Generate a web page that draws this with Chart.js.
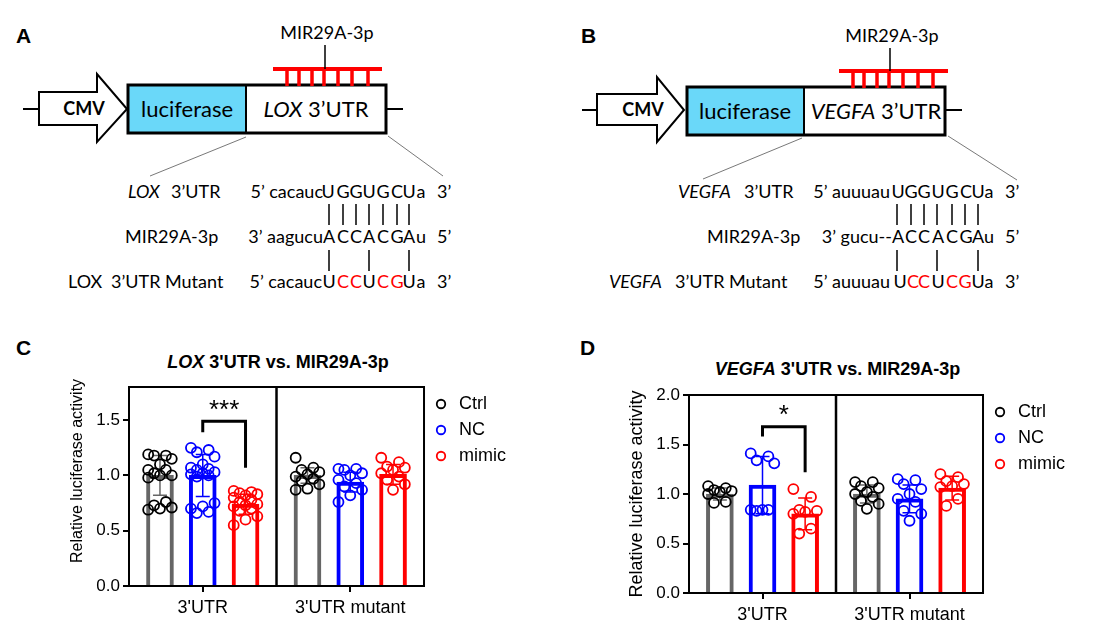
<!DOCTYPE html>
<html>
<head>
<meta charset="utf-8">
<script src="https://cdn.jsdelivr.net/npm/chart.js@4.4.1/dist/chart.umd.min.js"></script>
<style>
  body { margin: 0; background: #fff; }
  #wrap { position: relative; width: 1119px; height: 635px; overflow: hidden; }
  svg { position: absolute; left: 0; top: 0; }
  .seq { font-family: Lato, "Open Sans", sans-serif; font-size: 18px; fill: #000; }
  .it { font-style: italic; }
  .red { fill: #ff0000; }
  .box { font-family: Lato, "Open Sans", sans-serif; font-size: 22px; }
  .mir { font-family: Lato, "Open Sans", sans-serif; font-size: 18px; }
  .cmv { font-family: Lato, "Open Sans", sans-serif; font-size: 18px; font-weight: bold; }
  .plab { font-family: "Liberation Sans", Arial, sans-serif; font-size: 21px; font-weight: bold; }
  .ttl { position: absolute; text-align: center; font: bold 18px "Liberation Sans", Arial, sans-serif; line-height: 20px; color: #000; }
  canvas { position: absolute; }
</style>
</head>
<body>
<div id="wrap">
<svg width="1119" height="635">
  <!-- panel A -->
  <text class="plab" x="16" y="43">A</text>
  <line x1="23" y1="109" x2="39" y2="109" stroke="#000" stroke-width="2"/>
  <polygon points="39,92 97,92 97,74 127,109 97,142 97,125 39,125" fill="#fff" stroke="#000" stroke-width="2"/>
  <text class="cmv" x="84" y="115" text-anchor="middle">CMV</text>
  <rect x="128" y="85" width="118" height="48" fill="#6ad8f9"/>
  <rect x="128" y="85" width="258" height="48" fill="none" stroke="#000" stroke-width="3"/>
  <line x1="246" y1="85" x2="246" y2="133" stroke="#000" stroke-width="2"/>
  <line x1="386" y1="109" x2="403" y2="109" stroke="#000" stroke-width="2"/>
  <text class="box" x="187" y="117" text-anchor="middle">luciferase</text>
  <text class="box" x="316" y="117" text-anchor="middle"><tspan class="it">LOX</tspan> 3’UTR</text>
  <g stroke="#ff0000" stroke-width="3.5">
    <line x1="273" y1="69" x2="382" y2="69" stroke-width="4"/>
    <line x1="287" y1="69" x2="287" y2="86"/><line x1="299" y1="69" x2="299" y2="86"/>
    <line x1="312" y1="69" x2="312" y2="86"/><line x1="324" y1="69" x2="324" y2="86"/>
    <line x1="338" y1="69" x2="338" y2="86"/><line x1="352" y1="69" x2="352" y2="86"/>
    <line x1="368" y1="69" x2="368" y2="86"/>
  </g>
  <line x1="325" y1="45" x2="325" y2="69" stroke="#000" stroke-width="1.5"/>
  <text class="mir" x="327" y="39" text-anchor="middle">MIR29A-3p</text>
  <line x1="246" y1="137" x2="150" y2="176" stroke="#555" stroke-width="0.8"/>
  <line x1="388" y1="136" x2="443" y2="176" stroke="#555" stroke-width="0.8"/>

  <text class="seq it" x="128" y="198">LOX</text>
  <text class="seq" x="171" y="198">3’UTR</text>
  <text class="seq" x="323" y="198" text-anchor="end">5’ cacauc</text>
  <g class="seq" text-anchor="middle">
    <text x="328" y="198">U</text><text x="343" y="198">G</text><text x="356" y="198">G</text><text x="369" y="198">U</text>
    <text x="383" y="198">G</text><text x="397" y="198">C</text><text x="409" y="198">U</text><text x="421" y="198">a</text>
  </g>
  <text class="seq" x="437" y="198">3’</text>

  <text class="seq" x="125" y="243">MIR29A-3p</text>
  <text class="seq" x="323" y="243" text-anchor="end">3’ aagucu</text>
  <g class="seq" text-anchor="middle">
    <text x="329" y="243">A</text><text x="343" y="243">C</text><text x="356" y="243">C</text><text x="369" y="243">A</text>
    <text x="383" y="243">C</text><text x="397" y="243">G</text><text x="409" y="243">A</text><text x="421" y="243">u</text>
  </g>
  <text class="seq" x="437" y="243">5’</text>

  <text class="seq" x="68" y="288">LOX</text>
  <text class="seq" x="111" y="288">3’UTR Mutant</text>
  <text class="seq" x="322" y="288" text-anchor="end">5’ cacauc</text>
  <g class="seq" text-anchor="middle">
    <text x="329" y="288">U</text><text class="red" x="343" y="288">C</text><text class="red" x="356" y="288">C</text><text x="369" y="288">U</text>
    <text class="red" x="383" y="288">C</text><text class="red" x="397" y="288">G</text><text x="409" y="288">U</text><text x="421" y="288">a</text>
  </g>
  <text class="seq" x="437" y="288">3’</text>
  <g stroke="#000" stroke-width="1.5">
    <line x1="329" y1="204" x2="329" y2="225"/><line x1="343" y1="204" x2="343" y2="225"/>
    <line x1="356" y1="204" x2="356" y2="225"/><line x1="369" y1="204" x2="369" y2="225"/>
    <line x1="383" y1="204" x2="383" y2="225"/><line x1="397" y1="204" x2="397" y2="225"/>
    <line x1="409" y1="204" x2="409" y2="225"/>
    <line x1="329" y1="250" x2="329" y2="271"/><line x1="369" y1="250" x2="369" y2="271"/>
    <line x1="409" y1="250" x2="409" y2="271"/>
  </g>

  <!-- panel B -->
  <text class="plab" x="581" y="43">B</text>
  <line x1="582" y1="110" x2="597" y2="110" stroke="#000" stroke-width="2"/>
  <polygon points="597,94 657,94 657,77 684,110 657,142 657,125 597,125" fill="#fff" stroke="#000" stroke-width="2"/>
  <text class="cmv" x="643" y="116" text-anchor="middle">CMV</text>
  <rect x="687" y="87" width="117" height="48" fill="#6ad8f9"/>
  <rect x="687" y="87" width="258" height="48" fill="none" stroke="#000" stroke-width="3"/>
  <line x1="804" y1="87" x2="804" y2="135" stroke="#000" stroke-width="2"/>
  <line x1="945" y1="110" x2="962" y2="110" stroke="#000" stroke-width="2"/>
  <text class="box" x="745" y="119" text-anchor="middle">luciferase</text>
  <text class="box" x="876" y="119" text-anchor="middle"><tspan class="it">VEGFA</tspan> 3’UTR</text>
  <g stroke="#ff0000" stroke-width="3.5">
    <line x1="839" y1="71" x2="948" y2="71" stroke-width="4"/>
    <line x1="853" y1="71" x2="853" y2="88"/><line x1="864" y1="71" x2="864" y2="88"/>
    <line x1="877" y1="71" x2="877" y2="88"/><line x1="889" y1="71" x2="889" y2="88"/>
    <line x1="903" y1="71" x2="903" y2="88"/><line x1="918" y1="71" x2="918" y2="88"/>
    <line x1="933" y1="71" x2="933" y2="88"/>
  </g>
  <line x1="890" y1="48" x2="890" y2="71" stroke="#000" stroke-width="1.5"/>
  <text class="mir" x="892" y="42" text-anchor="middle">MIR29A-3p</text>
  <line x1="802" y1="138" x2="703" y2="179" stroke="#555" stroke-width="0.8"/>
  <line x1="948" y1="136" x2="1017" y2="180" stroke="#555" stroke-width="0.8"/>

  <text class="seq it" x="678" y="198">VEGFA</text>
  <text class="seq" x="744" y="198">3’UTR</text>
  <text class="seq" x="890" y="198" text-anchor="end">5’ auuuau</text>
  <g class="seq" text-anchor="middle">
    <text x="898" y="198">U</text><text x="911" y="198">G</text><text x="924" y="198">G</text><text x="938" y="198">U</text>
    <text x="952" y="198">G</text><text x="966" y="198">C</text><text x="978" y="198">U</text><text x="989" y="198">a</text>
  </g>
  <text class="seq" x="1005" y="198">3’</text>

  <text class="seq" x="707" y="243">MIR29A-3p</text>
  <text class="seq" x="892" y="243" text-anchor="end">3’ gucu--</text>
  <g class="seq" text-anchor="middle">
    <text x="898" y="243">A</text><text x="911" y="243">C</text><text x="924" y="243">C</text><text x="938" y="243">A</text>
    <text x="952" y="243">C</text><text x="966" y="243">G</text><text x="978" y="243">A</text><text x="989" y="243">u</text>
  </g>
  <text class="seq" x="1005" y="243">5’</text>

  <text class="seq it" x="609" y="288">VEGFA</text>
  <text class="seq" x="675" y="288">3’UTR Mutant</text>
  <text class="seq" x="890" y="288" text-anchor="end">5’ auuuau</text>
  <g class="seq" text-anchor="middle">
    <text x="900" y="288">U</text><text class="red" x="913" y="288">C</text><text class="red" x="924" y="288">C</text><text x="938" y="288">U</text>
    <text class="red" x="952" y="288">C</text><text class="red" x="965" y="288">G</text><text x="978" y="288">U</text><text x="989" y="288">a</text>
  </g>
  <text class="seq" x="1005" y="288">3’</text>
  <g stroke="#000" stroke-width="1.5">
    <line x1="897" y1="204" x2="897" y2="225"/><line x1="911" y1="204" x2="911" y2="225"/>
    <line x1="924" y1="204" x2="924" y2="225"/><line x1="937" y1="204" x2="937" y2="225"/>
    <line x1="952" y1="204" x2="952" y2="225"/><line x1="965" y1="204" x2="965" y2="225"/>
    <line x1="978" y1="204" x2="978" y2="225"/>
    <line x1="897" y1="250" x2="897" y2="271"/><line x1="937" y1="250" x2="937" y2="271"/>
    <line x1="978" y1="250" x2="978" y2="271"/>
  </g>

  <text class="plab" x="16" y="355">C</text>
  <text class="plab" x="580" y="355">D</text>
</svg>

<div class="ttl" style="left:129px;top:352px;width:298px"><i>LOX</i> 3'UTR vs. MIR29A-3p</div>
<div class="ttl" style="left:689px;top:359px;width:297px"><i>VEGFA</i> 3'UTR vs. MIR29A-3p</div>
<canvas id="chartC" width="560" height="305" style="left:0;top:330px"></canvas>
<canvas id="chartD" width="559" height="305" style="left:560px;top:330px"></canvas>
</div>

<script>
// groups on the x axis
const groups = ["3'UTR", "3'UTR mutant"];
const seriesNames = ["Ctrl", "NC", "mimic"];
const seriesColors = ["#000000", "#0000ff", "#ff0000"];
const barColors = ["#666666", "#0000ff", "#ff0000"];

// C: LOX 3'UTR (mean, SD, single points per group)
const meanCtrlC = [1.00, 1.00];
const sdCtrlC = [0.18, 0.07];
const meanNcC = [1.00, 0.94];
const sdNcC = [0.19, 0.09];
const meanMimicC = [0.74, 1.01];
const sdMimicC = [0.09, 0.09];
const ptsCtrlC = [[1.19, 1.18, 1.18, 1.15, 1.10, 1.05, 1.05, 1.02, 1.00, 1.00, 0.98, 0.76, 0.73, 0.71, 0.70, 0.69],
                  [1.16, 1.07, 1.05, 1.03, 1.01, 0.99, 0.97, 0.95, 0.92, 0.88, 0.87]];
const ptsNcC = [[1.25, 1.23, 1.21, 1.17, 1.10, 1.07, 1.06, 1.05, 1.03, 1.02, 1.01, 1.00, 0.99, 0.75, 0.72, 0.70, 0.67, 0.66],
                [1.06, 1.06, 1.05, 1.02, 1.00, 0.96, 0.93, 0.90, 0.87, 0.82, 0.76]];
const ptsMimicC = [[0.86, 0.85, 0.84, 0.83, 0.82, 0.80, 0.78, 0.76, 0.74, 0.73, 0.72, 0.70, 0.68, 0.63, 0.60, 0.55],
                   [1.16, 1.12, 1.08, 1.07, 1.05, 1.02, 0.99, 0.96, 0.92, 0.87]];
const bracketC = [1.49, 1.39, 1.07];   // top, left foot, right foot
const starsC = "***";
const starsYC = 1.58;

// D: VEGFA 3'UTR
const meanCtrlD = [1.00, 1.00];
const sdCtrlD = [0.06, 0.09];
const meanNcD = [1.09, 0.95];
const sdNcD = [0.29, 0.14];
const meanMimicD = [0.80, 1.06];
const sdMimicD = [0.16, 0.12];
const ptsCtrlD = [[1.08, 1.06, 1.04, 1.03, 1.02, 1.00, 0.92, 0.91],
                  [1.12, 1.12, 1.08, 1.06, 1.02, 1.00, 0.97, 0.93, 0.90, 0.85]];
const ptsNcD = [[1.41, 1.38, 1.34, 1.31, 0.84, 0.84, 0.84, 0.83],
                [1.15, 1.14, 1.10, 1.05, 1.00, 0.95, 0.92, 0.83, 0.80, 0.73]];
const ptsMimicD = [[1.05, 0.97, 0.84, 0.83, 0.82, 0.80, 0.65, 0.60],
                   [1.20, 1.17, 1.13, 1.10, 1.08, 1.07, 0.95, 0.88]];
const bracketD = [1.68, 1.58, 1.22];
const starsD = "*";
const starsYD = 1.79;

const SLOT = 0.29;   // distance between bars inside a group, in group units
const FONT = '"Liberation Sans", Arial, sans-serif';

// bar k of group g sits at g + (k-1)*SLOT
function barPos(means, k) {
  return means.map((m, g) => ({ x: g + (k - 1) * SLOT, y: m }));
}

// spread the dots of each group across the bar
function dots(sets, k) {
  const out = [];
  sets.forEach((vals, g) => {
    vals.forEach((v, i) => {
      out.push({ x: g + (k - 1) * SLOT + (((i * 3) % 5) - 2) * 0.04, y: v });
    });
  });
  return out;
}

const extras = {
  id: 'extras',
  afterDatasetDraw(chart, args) {
    const ds = chart.data.datasets[args.index];
    if (!ds.sd) return;
    const ctx = chart.ctx, y = chart.scales.y;
    ctx.save();
    ctx.strokeStyle = ds.borderColor;
    ctx.lineWidth = 1.5;
    args.meta.data.forEach((bar, j) => {
      const m = ds.data[j].y;
      const t = y.getPixelForValue(m + ds.sd[j]);
      const b = y.getPixelForValue(m - ds.sd[j]);
      ctx.beginPath();
      ctx.moveTo(bar.x, t); ctx.lineTo(bar.x, b);
      ctx.moveTo(bar.x - 7, t); ctx.lineTo(bar.x + 7, t);
      ctx.moveTo(bar.x - 7, b); ctx.lineTo(bar.x + 7, b);
      ctx.stroke();
    });
    ctx.restore();
  },
  afterDatasetsDraw(chart, args, opts) {
    const { ctx, chartArea: a, scales } = chart;
    const x = scales.x, y = scales.y;
    ctx.save();
    ctx.strokeStyle = '#000';
    ctx.lineWidth = 2;
    ctx.strokeRect(a.left, a.top, a.right - a.left, a.bottom - a.top);
    const mid = (x.getPixelForValue(0) + x.getPixelForValue(1)) / 2;
    ctx.lineWidth = 2.5;
    ctx.beginPath();
    ctx.moveTo(mid, a.top); ctx.lineTo(mid, a.bottom);
    ctx.stroke();
    // significance bracket between NC and mimic of first group
    const x1 = chart.getDatasetMeta(opts.from).data[0].x;
    const x2 = chart.getDatasetMeta(opts.to).data[0].x;
    const [top, f1, f2] = opts.bracket;
    ctx.lineWidth = 3;
    ctx.beginPath();
    ctx.moveTo(x1, y.getPixelForValue(f1));
    ctx.lineTo(x1, y.getPixelForValue(top));
    ctx.lineTo(x2, y.getPixelForValue(top));
    ctx.lineTo(x2, y.getPixelForValue(f2));
    ctx.stroke();
    ctx.fillStyle = '#000';
    ctx.font = '26px ' + FONT;
    ctx.textAlign = 'center';
    ctx.textBaseline = 'middle';
    ctx.fillText(opts.stars, (x1 + x2) / 2, y.getPixelForValue(opts.starsY));
    ctx.restore();
  }
};

function makeChart(id, means, sds, pts, yMax, bracket, stars, starsY, top, xHeight, yTitleSize, yTitlePad, yTitle) {
  const datasets = [];
  pts.forEach((p, k) => datasets.push({
    type: 'scatter',
    label: seriesNames[k],
    data: dots(p, k),
    xAxisID: 'xp',
    yAxisID: 'y',
    borderColor: seriesColors[k],
    backgroundColor: 'rgba(0,0,0,0)',
    pointStyle: 'circle',
    pointRadius: 5,
    pointBorderWidth: 1.8,
    order: 1
  }));
  means.forEach((m, k) => datasets.push({
    type: 'bar',
    label: seriesNames[k] + ' mean',
    data: barPos(m, k),
    sd: sds[k],
    xAxisID: 'xp',
    yAxisID: 'y',
    grouped: false,
    borderColor: barColors[k],
    backgroundColor: '#ffffff',
    borderWidth: 4,
    barThickness: 27,
    order: 2
  }));

  return new Chart(document.getElementById(id), {
    type: 'bar',
    data: { labels: groups, datasets },
    options: {
      responsive: false,
      animation: false,
      layout: { padding: { left: 60, top: top, right: 44, bottom: 0 } },
      plugins: {
        tooltip: { enabled: false },
        title: { display: false },
        legend: {
          position: 'right',
          align: 'start',
          fullSize: false,
          labels: {
            filter: item => item.datasetIndex < 3,
            usePointStyle: true,
            boxWidth: 18,
            boxHeight: 6,
            padding: 8,
            color: '#000',
            font: { family: FONT, size: 18 }
          }
        },
        extras: { from: 4, to: 5, bracket, stars, starsY }
      },
      scales: {
        x: {
          type: 'category',
          offset: true,
          grid: { offset: false, drawOnChartArea: false, drawTicks: true, tickLength: 6, color: '#000', lineWidth: 2 },
          border: { display: true, color: '#000', width: 2 },
          ticks: { color: '#000', padding: 5, font: { family: FONT, size: 18 } },
          afterFit: s => { s.height = xHeight; }
        },
        xp: { type: 'linear', display: false, offset: false, min: -0.5, max: 1.5 },
        y: {
          min: 0,
          max: yMax,
          grid: { drawOnChartArea: false, drawTicks: true, tickLength: 6, color: '#000', lineWidth: 2 },
          border: { display: true, color: '#000', width: 2 },
          ticks: { stepSize: 0.5, includeBounds: false, padding: 3, color: '#000', font: { family: FONT, size: 17 },
                   callback: v => v.toFixed(1) },
          title: { display: true, text: yTitle, color: '#000', padding: { top: yTitlePad, bottom: 0 },
                   font: { family: FONT, size: yTitleSize } },
          afterFit: s => { s.width = 69; }
        }
      }
    },
    plugins: [extras]
  });
}

makeChart('chartC',
  [meanCtrlC, meanNcC, meanMimicC], [sdCtrlC, sdNcC, sdMimicC], [ptsCtrlC, ptsNcC, ptsMimicC],
  1.8, bracketC, starsC, starsYC, 57, 49, 16, 8, '       Relative luciferase activity');
makeChart('chartD',
  [meanCtrlD, meanNcD, meanMimicD], [sdCtrlD, sdNcD, sdMimicD], [ptsCtrlD, ptsNcD, ptsMimicD],
  2.0, bracketD, starsD, starsYD, 65, 42, 18, 6, 'Relative luciferase activity');
</script>
</body>
</html>
